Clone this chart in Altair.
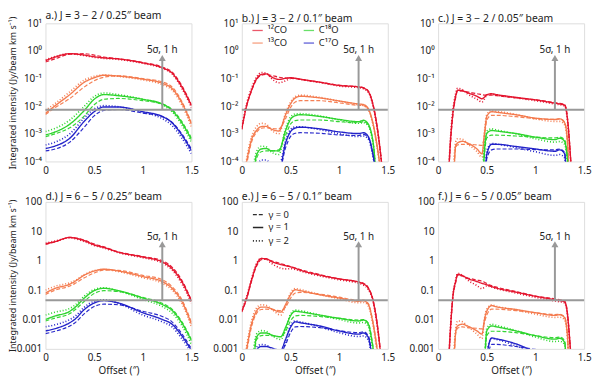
import altair as alt
import pandas as pd

FONT = "Noto Sans"

# ---------------- categories / styles ----------------
SPECIES = ["¹²CO", "¹³CO", "C¹⁸O", "C¹⁷O"]
SPECIES_COLORS = ["#e3122c", "#f4794c", "#2ad42a", "#1e1ec8"]
GAMMAS = ["γ = 0", "γ = 1", "γ = 2"]

TOP_TICKS = [10, 1, 0.1, 0.01, 0.001, 0.0001]
TOP_TICK_LABELS = ["10¹", "10⁰", "10⁻¹", "10⁻²", "10⁻³", "10⁻⁴"]
BOT_TICKS = [100, 10, 1, 0.1, 0.01, 0.001]
BOT_TICK_LABELS = ["100", "10", "1", "0.1", "0.01", "0.001"]
X_TICKS = [0, 0.5, 1, 1.5]

PANEL_TITLES = [
    "a.)  J = 3 − 2 / 0.25″ beam", "b.)  J = 3 − 2 / 0.1″ beam", "c.)  J = 3 − 2 / 0.05″ beam",
    "d.)  J = 6 − 5 / 0.25″ beam", "e.)  J = 6 − 5 / 0.1″ beam", "f.)  J = 6 − 5 / 0.05″ beam",
]

# 5 sigma detection level (Jy/beam km/s), arrow top and label height per row
SIGMA_LEVEL = [0.0075, 0.045]
ARROW_TOP = [0.56, 3.6]
LABEL_Y = [1.05, 6.5]
ARROW_X = 1.2

# ---------------- data: log10 of integrated intensity ----------------
# panel a (J=3-2, 0.25")
A_X = [0, 0.1, 0.25, 0.4, 0.5, 0.6, 0.75, 1.0, 1.2, 1.3, 1.4, 1.5]
A_12CO_G0 = [-0.40, -0.28, -0.12, -0.10, -0.15, -0.22, -0.28, -0.42, -0.58, -0.76, -1.25, -1.95]
A_12CO_G1 = [-0.35, -0.22, -0.10, -0.15, -0.21, -0.25, -0.29, -0.43, -0.61, -0.80, -1.30, -1.98]
A_12CO_G2 = [-0.32, -0.20, -0.10, -0.17, -0.23, -0.27, -0.31, -0.45, -0.63, -0.83, -1.35, -2.05]
A_13CO_G0 = [-2.30, -2.05, -1.72, -1.30, -1.08, -0.95, -0.90, -1.00, -1.12, -1.30, -1.82, -2.60]
A_13CO_G1 = [-2.26, -1.98, -1.58, -1.13, -0.97, -0.88, -0.91, -1.02, -1.17, -1.36, -1.87, -2.65]
A_13CO_G2 = [-2.15, -1.90, -1.48, -1.05, -0.92, -0.87, -0.92, -1.05, -1.22, -1.42, -1.95, -2.75]
A_C18O_G0 = [-3.10, -3.00, -2.78, -2.35, -1.95, -1.75, -1.72, -1.80, -1.92, -2.12, -2.55, -3.15]
A_C18O_G1 = [-3.04, -2.93, -2.65, -2.15, -1.75, -1.58, -1.62, -1.75, -1.92, -2.15, -2.60, -3.21]
A_C18O_G2 = [-2.92, -2.80, -2.50, -2.00, -1.65, -1.52, -1.58, -1.75, -1.95, -2.20, -2.68, -3.30]
A_C17O_G0 = [-3.62, -3.55, -3.30, -2.75, -2.35, -2.15, -2.12, -2.25, -2.38, -2.58, -3.00, -3.55]
A_C17O_G1 = [-3.53, -3.44, -3.16, -2.54, -2.20, -2.03, -2.03, -2.20, -2.37, -2.60, -3.04, -3.61]
A_C17O_G2 = [-3.40, -3.30, -3.00, -2.42, -2.10, -1.98, -2.02, -2.22, -2.45, -2.70, -3.15, -3.72]

# panel b (J=3-2, 0.1")
B_X = [0, 0.05, 0.1, 0.15, 0.2, 0.25, 0.3, 0.38, 0.45, 0.5, 0.55, 0.6, 0.8, 1.0, 1.2, 1.25, 1.3, 1.35, 1.4, 1.45]
B_12CO_G0 = [-2.85, -2.00, -1.45, -1.05, -0.88, -0.85, -0.88, -0.95, -0.98, -0.99, -1.00, -1.03, -1.13, -1.24, -1.30, -1.33, -1.45, -1.95, -2.95, -4.5]
B_12CO_G1 = [-2.82, -1.98, -1.42, -1.02, -0.85, -0.83, -0.93, -1.03, -0.99, -0.97, -0.99, -1.02, -1.13, -1.25, -1.30, -1.34, -1.47, -1.98, -2.99, -4.5]
B_12CO_G2 = [-2.75, -1.90, -1.35, -0.95, -0.78, -0.80, -0.98, -1.15, -1.08, -1.00, -1.00, -1.03, -1.14, -1.27, -1.33, -1.37, -1.50, -2.02, -3.05, -4.5]
B_13CO_G0 = [-5.0, -4.1, -3.30, -2.95, -2.80, -2.78, -2.80, -2.82, -2.45, -2.05, -1.85, -1.80, -1.80, -1.88, -1.97, -1.98, -2.12, -2.68, -3.70, -5.0]
B_13CO_G1 = [-5.0, -4.0, -3.21, -2.88, -2.74, -2.73, -2.82, -2.90, -2.31, -1.92, -1.70, -1.64, -1.70, -1.81, -1.92, -1.94, -2.09, -2.65, -3.66, -5.0]
B_13CO_G2 = [-5.0, -3.9, -3.10, -2.75, -2.62, -2.65, -2.85, -3.00, -2.25, -1.85, -1.65, -1.60, -1.68, -1.82, -1.95, -1.98, -2.13, -2.70, -3.72, -5.0]
B_C18O_G0 = [-5.0, -5.0, -5.0, -3.90, -3.65, -3.62, -3.62, -3.58, -3.05, -2.65, -2.52, -2.50, -2.50, -2.56, -2.60, -2.56, -2.68, -3.35, -5.0, -5.0]
B_C18O_G1 = [-5.0, -5.0, -5.0, -3.78, -3.55, -3.53, -3.61, -3.62, -2.88, -2.48, -2.34, -2.31, -2.37, -2.48, -2.56, -2.51, -2.65, -3.33, -5.0, -5.0]
B_C18O_G2 = [-5.0, -5.0, -4.5, -3.65, -3.45, -3.47, -3.65, -3.75, -2.80, -2.40, -2.28, -2.27, -2.35, -2.50, -2.62, -2.60, -2.72, -3.40, -5.0, -5.0]
B_C17O_G0 = [-5.0, -5.0, -5.0, -5.0, -4.5, -4.4, -4.4, -4.4, -3.50, -3.10, -2.98, -2.96, -2.98, -3.04, -3.06, -3.02, -3.14, -3.80, -5.0, -5.0]
B_C17O_G1 = [-5.0, -5.0, -5.0, -5.0, -4.3, -4.2, -4.3, -4.4, -3.33, -2.93, -2.79, -2.76, -2.82, -2.93, -2.99, -2.96, -3.10, -3.78, -5.0, -5.0]
B_C17O_G2 = [-5.0, -5.0, -5.0, -4.3, -3.95, -3.95, -4.1, -4.2, -3.25, -2.85, -2.75, -2.75, -2.85, -3.00, -3.10, -3.08, -3.20, -3.85, -5.0, -5.0]

# panel c (J=3-2, 0.05")
C_X = [0.1, 0.13, 0.15, 0.18, 0.2, 0.25, 0.3, 0.4, 0.45, 0.48, 0.5, 0.55, 0.6, 0.8, 1.0, 1.2, 1.25, 1.3, 1.33, 1.35, 1.38]
C_12CO_G0 = [-5.0, -3.2, -2.40, -1.70, -1.46, -1.45, -1.48, -1.55, -1.58, -1.60, -1.60, -1.60, -1.62, -1.70, -1.77, -1.87, -1.90, -1.94, -2.45, -3.30, -5.0]
C_12CO_G1 = [-5.0, -3.1, -2.31, -1.64, -1.42, -1.44, -1.51, -1.64, -1.73, -1.66, -1.58, -1.55, -1.58, -1.68, -1.77, -1.89, -1.92, -1.96, -2.50, -3.33, -5.0]
C_12CO_G2 = [-5.0, -3.0, -2.20, -1.55, -1.35, -1.40, -1.55, -1.75, -1.85, -1.72, -1.60, -1.57, -1.60, -1.70, -1.80, -1.92, -1.95, -1.99, -2.55, -3.40, -5.0]
C_13CO_G0 = [-5.0, -5.0, -5.0, -3.50, -3.40, -3.38, -3.38, -3.40, -3.42, -3.00, -2.50, -2.33, -2.33, -2.38, -2.45, -2.48, -2.46, -2.58, -3.30, -5.0, -5.0]
C_13CO_G1 = [-5.0, -5.0, -5.0, -3.44, -3.33, -3.27, -3.33, -3.55, -3.72, -2.88, -2.37, -2.20, -2.22, -2.31, -2.43, -2.48, -2.46, -2.60, -3.33, -5.0, -5.0]
C_13CO_G2 = [-5.0, -5.0, -4.5, -3.30, -3.18, -3.20, -3.35, -3.65, -3.85, -2.80, -2.30, -2.15, -2.18, -2.30, -2.46, -2.55, -2.55, -2.68, -3.40, -5.0, -5.0]
C_C18O_G0 = [-5.0, -5.0, -5.0, -5.0, -5.0, -5.0, -5.0, -5.0, -5.0, -3.60, -3.15, -3.05, -3.05, -3.08, -3.12, -3.15, -3.12, -3.22, -3.95, -5.0, -5.0]
C_C18O_G1 = [-5.0, -5.0, -5.0, -5.0, -5.0, -5.0, -5.0, -5.0, -5.0, -3.44, -2.99, -2.88, -2.90, -2.99, -3.12, -3.21, -3.16, -3.27, -4.00, -5.0, -5.0]
C_C18O_G2 = [-5.0, -5.0, -5.0, -5.0, -5.0, -5.0, -5.0, -5.0, -4.5, -3.30, -2.90, -2.82, -2.86, -3.00, -3.18, -3.30, -3.28, -3.38, -4.10, -5.0, -5.0]
C_C17O_G0 = [-5.0, -5.0, -5.0, -5.0, -5.0, -5.0, -5.0, -5.0, -5.0, -5.0, -3.90, -3.58, -3.55, -3.55, -3.57, -3.58, -3.55, -3.68, -5.0, -5.0, -5.0]
C_C17O_G1 = [-5.0, -5.0, -5.0, -5.0, -5.0, -5.0, -5.0, -5.0, -5.0, -4.6, -3.75, -3.38, -3.38, -3.46, -3.55, -3.63, -3.58, -3.72, -5.0, -5.0, -5.0]
C_C17O_G2 = [-5.0, -5.0, -5.0, -5.0, -5.0, -5.0, -5.0, -5.0, -5.0, -4.5, -3.60, -3.35, -3.37, -3.50, -3.65, -3.78, -3.75, -3.88, -5.0, -5.0, -5.0]

# panel d (J=6-5, 0.25")
D_X = [0, 0.1, 0.25, 0.3, 0.4, 0.5, 0.6, 0.75, 1.0, 1.2, 1.3, 1.4, 1.5]
D_12CO_G0 = [0.55, 0.64, 0.79, 0.78, 0.70, 0.57, 0.47, 0.30, 0.14, 0.00, -0.22, -0.66, -1.35]
D_12CO_G1 = [0.57, 0.65, 0.79, 0.77, 0.68, 0.54, 0.45, 0.29, 0.125, -0.04, -0.27, -0.71, -1.38]
D_12CO_G2 = [0.60, 0.67, 0.78, 0.75, 0.65, 0.52, 0.43, 0.27, 0.10, -0.08, -0.32, -0.78, -1.45]
D_13CO_G0 = [-1.15, -1.00, -0.86, -0.78, -0.58, -0.42, -0.32, -0.33, -0.50, -0.65, -0.88, -1.32, -2.10]
D_13CO_G1 = [-1.10, -0.94, -0.80, -0.71, -0.49, -0.35, -0.29, -0.35, -0.54, -0.71, -0.94, -1.38, -2.16]
D_13CO_G2 = [-1.00, -0.87, -0.75, -0.68, -0.47, -0.34, -0.30, -0.37, -0.58, -0.77, -1.00, -1.45, -2.25]
D_C18O_G0 = [-2.05, -1.95, -1.80, -1.68, -1.38, -1.12, -1.02, -1.05, -1.25, -1.45, -1.65, -2.07, -2.68]
D_C18O_G1 = [-2.00, -1.88, -1.72, -1.60, -1.27, -1.02, -0.94, -1.02, -1.27, -1.49, -1.69, -2.11, -2.72]
D_C18O_G2 = [-1.85, -1.75, -1.62, -1.52, -1.20, -0.98, -0.92, -1.03, -1.32, -1.56, -1.78, -2.20, -2.85]
D_C17O_G0 = [-2.48, -2.40, -2.22, -2.12, -1.80, -1.56, -1.48, -1.50, -1.72, -1.90, -2.08, -2.48, -3.00]
D_C17O_G1 = [-2.39, -2.31, -2.11, -2.00, -1.66, -1.44, -1.36, -1.44, -1.77, -2.00, -2.16, -2.55, -3.06]
D_C17O_G2 = [-2.25, -2.18, -2.00, -1.90, -1.58, -1.38, -1.33, -1.45, -1.85, -2.08, -2.25, -2.65, -3.15]

# panel e (J=6-5, 0.1")
E_X = [0, 0.05, 0.1, 0.15, 0.2, 0.25, 0.3, 0.4, 0.45, 0.5, 0.55, 0.6, 0.8, 1.0, 1.2, 1.25, 1.3, 1.35, 1.4, 1.45]
E_12CO_G0 = [-1.75, -1.30, -0.70, -0.20, 0.03, 0.05, 0.00, -0.10, -0.15, -0.20, -0.25, -0.30, -0.47, -0.62, -0.72, -0.77, -0.92, -1.35, -2.35, -4.0]
E_12CO_G1 = [-1.72, -1.27, -0.66, -0.15, 0.07, 0.07, -0.02, -0.13, -0.17, -0.21, -0.26, -0.32, -0.49, -0.62, -0.73, -0.79, -0.94, -1.38, -2.39, -4.0]
E_12CO_G2 = [-1.68, -1.22, -0.62, -0.10, 0.08, 0.05, -0.08, -0.25, -0.28, -0.27, -0.30, -0.35, -0.52, -0.65, -0.77, -0.83, -0.98, -1.42, -2.45, -4.0]
E_13CO_G0 = [-4.0, -3.1, -2.25, -1.80, -1.66, -1.65, -1.66, -1.70, -1.58, -1.28, -1.10, -1.08, -1.14, -1.24, -1.35, -1.34, -1.46, -2.12, -3.15, -4.0]
E_13CO_G1 = [-4.0, -3.0, -2.16, -1.72, -1.58, -1.58, -1.63, -1.75, -1.49, -1.16, -0.99, -1.02, -1.16, -1.27, -1.38, -1.36, -1.49, -2.16, -3.20, -4.0]
E_13CO_G2 = [-4.0, -2.9, -2.05, -1.62, -1.50, -1.52, -1.63, -1.85, -1.55, -1.10, -0.95, -0.98, -1.15, -1.30, -1.43, -1.42, -1.55, -2.22, -3.30, -4.0]
E_C18O_G0 = [-4.0, -4.0, -4.0, -2.70, -2.55, -2.54, -2.55, -2.58, -2.40, -2.05, -1.88, -1.86, -1.90, -1.96, -2.02, -2.00, -2.12, -2.95, -4.0, -4.0]
E_C18O_G1 = [-4.0, -4.0, -4.0, -2.61, -2.46, -2.46, -2.52, -2.59, -2.27, -1.88, -1.72, -1.74, -1.85, -1.96, -2.05, -2.02, -2.16, -3.00, -4.0, -4.0]
E_C18O_G2 = [-4.0, -4.0, -3.5, -2.50, -2.38, -2.40, -2.52, -2.68, -2.35, -1.82, -1.68, -1.70, -1.85, -2.00, -2.12, -2.10, -2.24, -3.10, -4.0, -4.0]
E_C17O_G0 = [-4.0, -4.0, -4.0, -3.20, -3.05, -3.05, -3.05, -3.10, -2.85, -2.45, -2.25, -2.24, -2.28, -2.38, -2.45, -2.42, -2.56, -3.45, -4.0, -4.0]
E_C17O_G1 = [-4.0, -4.0, -4.0, -3.05, -2.92, -2.92, -2.96, -3.05, -2.67, -2.27, -2.08, -2.11, -2.22, -2.39, -2.50, -2.46, -2.61, -3.50, -4.0, -4.0]
E_C17O_G2 = [-4.0, -4.0, -4.0, -2.95, -2.85, -2.87, -2.98, -3.15, -2.75, -2.20, -2.05, -2.08, -2.25, -2.45, -2.58, -2.56, -2.70, -3.60, -4.0, -4.0]

# panel f (J=6-5, 0.05")
F_X = [0.1, 0.13, 0.15, 0.18, 0.2, 0.25, 0.3, 0.4, 0.45, 0.48, 0.5, 0.55, 0.6, 0.8, 1.0, 1.2, 1.25, 1.3, 1.33, 1.35, 1.38]
F_12CO_G0 = [-4.0, -2.20, -1.32, -0.75, -0.50, -0.52, -0.58, -0.66, -0.70, -0.74, -0.78, -0.85, -0.90, -1.05, -1.20, -1.30, -1.33, -1.37, -1.80, -2.58, -4.0]
F_12CO_G1 = [-4.0, -2.16, -1.27, -0.71, -0.47, -0.51, -0.60, -0.71, -0.77, -0.80, -0.82, -0.88, -0.93, -1.07, -1.21, -1.33, -1.36, -1.40, -1.85, -2.61, -4.0]
F_12CO_G2 = [-4.0, -2.10, -1.22, -0.66, -0.43, -0.50, -0.65, -0.85, -0.95, -0.90, -0.86, -0.90, -0.95, -1.10, -1.25, -1.37, -1.40, -1.44, -1.90, -2.65, -4.0]
F_13CO_G0 = [-4.0, -4.0, -4.0, -2.50, -2.30, -2.25, -2.28, -2.30, -2.32, -2.05, -1.85, -1.65, -1.65, -1.70, -1.77, -1.83, -1.82, -1.92, -2.58, -4.0, -4.0]
F_13CO_G1 = [-4.0, -4.0, -4.0, -2.44, -2.22, -2.16, -2.22, -2.39, -2.50, -1.94, -1.72, -1.53, -1.57, -1.66, -1.77, -1.86, -1.84, -1.94, -2.61, -4.0, -4.0]
F_13CO_G2 = [-4.0, -4.0, -3.5, -2.35, -2.05, -2.08, -2.22, -2.50, -2.65, -1.90, -1.65, -1.50, -1.55, -1.68, -1.82, -1.93, -1.92, -2.02, -2.68, -4.0, -4.0]
F_C18O_G0 = [-4.0, -4.0, -4.0, -4.0, -4.0, -4.0, -4.0, -4.0, -4.0, -3.30, -2.55, -2.40, -2.40, -2.45, -2.55, -2.62, -2.60, -2.72, -4.0, -4.0, -4.0]
F_C18O_G1 = [-4.0, -4.0, -4.0, -4.0, -4.0, -4.0, -4.0, -4.0, -4.0, -3.20, -2.39, -2.22, -2.25, -2.39, -2.55, -2.67, -2.64, -2.78, -4.0, -4.0, -4.0]
F_C18O_G2 = [-4.0, -4.0, -4.0, -4.0, -4.0, -4.0, -4.0, -4.0, -4.0, -3.10, -2.30, -2.16, -2.20, -2.38, -2.60, -2.75, -2.74, -2.86, -4.0, -4.0, -4.0]
F_C17O_G0 = [-4.0, -4.0, -4.0, -4.0, -4.0, -4.0, -4.0, -4.0, -4.0, -4.0, -3.50, -2.85, -2.85, -2.92, -3.02, -3.10, -3.10, -3.20, -4.0, -4.0, -4.0]
F_C17O_G1 = [-4.0, -4.0, -4.0, -4.0, -4.0, -4.0, -4.0, -4.0, -4.0, -4.0, -3.30, -2.63, -2.66, -2.83, -3.10, -3.30, -3.30, -3.40, -4.0, -4.0, -4.0]
F_C17O_G2 = [-4.0, -4.0, -4.0, -4.0, -4.0, -4.0, -4.0, -4.0, -4.0, -4.0, -3.20, -2.65, -2.68, -2.90, -3.15, -3.40, -3.40, -3.50, -4.0, -4.0, -4.0]

PANELS = {
    "a": (A_X, [[A_12CO_G0, A_12CO_G1, A_12CO_G2], [A_13CO_G0, A_13CO_G1, A_13CO_G2],
                [A_C18O_G0, A_C18O_G1, A_C18O_G2], [A_C17O_G0, A_C17O_G1, A_C17O_G2]]),
    "b": (B_X, [[B_12CO_G0, B_12CO_G1, B_12CO_G2], [B_13CO_G0, B_13CO_G1, B_13CO_G2],
                [B_C18O_G0, B_C18O_G1, B_C18O_G2], [B_C17O_G0, B_C17O_G1, B_C17O_G2]]),
    "c": (C_X, [[C_12CO_G0, C_12CO_G1, C_12CO_G2], [C_13CO_G0, C_13CO_G1, C_13CO_G2],
                [C_C18O_G0, C_C18O_G1, C_C18O_G2], [C_C17O_G0, C_C17O_G1, C_C17O_G2]]),
    "d": (D_X, [[D_12CO_G0, D_12CO_G1, D_12CO_G2], [D_13CO_G0, D_13CO_G1, D_13CO_G2],
                [D_C18O_G0, D_C18O_G1, D_C18O_G2], [D_C17O_G0, D_C17O_G1, D_C17O_G2]]),
    "e": (E_X, [[E_12CO_G0, E_12CO_G1, E_12CO_G2], [E_13CO_G0, E_13CO_G1, E_13CO_G2],
                [E_C18O_G0, E_C18O_G1, E_C18O_G2], [E_C17O_G0, E_C17O_G1, E_C17O_G2]]),
    "f": (F_X, [[F_12CO_G0, F_12CO_G1, F_12CO_G2], [F_13CO_G0, F_13CO_G1, F_13CO_G2],
                [F_C18O_G0, F_C18O_G1, F_C18O_G2], [F_C17O_G0, F_C17O_G1, F_C17O_G2]]),
}


def panel_frame(key):
    xs, table = PANELS[key]
    rows = []
    for si, sp in enumerate(SPECIES):
        for gi, g in enumerate(GAMMAS):
            for x, lv in zip(xs, table[si][gi]):
                rows.append({"x": x, "y": 10 ** lv, "species": sp, "gamma": g})
    return pd.DataFrame(rows)


def label_expr(ticks, labels):
    parts = []
    for t, lab in zip(ticks[:-1], labels[:-1]):
        parts.append(f"datum.value > {t * 0.5} ? '{lab}' : ")
    return "".join(parts) + f"'{labels[-1]}'"


LEG_COLOR = alt.Legend(orient="none", legendX=209, legendY=1, columns=2, title=None,
                       symbolType="stroke", symbolStrokeWidth=1.3, symbolSize=110,
                       labelFont=FONT, labelFontSize=9.5, labelColor="#222",
                       columnPadding=14, rowPadding=2, symbolOpacity=0.7)
LEG_DASH = alt.Legend(orient="none", legendX=209, legendY=188, title=None,
                      symbolType="stroke", symbolStrokeWidth=1.3, symbolSize=110,
                      symbolStrokeColor="#222",
                      labelFont=FONT, labelFontSize=9.5, labelColor="#222", rowPadding=2)

W = 148
HEIGHTS = [140, 149]


def make_panel(idx):
    key = "abcdef"[idx]
    row = 0 if idx < 3 else 1
    col = idx % 3
    ticks = TOP_TICKS if row == 0 else BOT_TICKS
    labels = TOP_TICK_LABELS if row == 0 else BOT_TICK_LABELS
    ydom = [ticks[-1], ticks[0]]

    yaxis_kwargs = dict(values=ticks, labelExpr=label_expr(ticks, labels), ticks=False, grid=False,
                        domain=False, labelPadding=4, labelFontSize=10, labelFont=FONT,
                        labelColor="#222", minExtent=26, maxExtent=26)
    if col == 0:
        yaxis = alt.Axis(title="Integrated intensity (Jy/beam km s⁻¹)", titlePadding=2,
                         titleFont=FONT, titleFontSize=9, titleFontWeight="normal",
                         titleColor="#222", **yaxis_kwargs)
    else:
        yaxis = alt.Axis(title=None, **yaxis_kwargs)
    xaxis_kwargs = dict(values=X_TICKS, format="~g", ticks=False, grid=False, domain=False,
                        labelPadding=4, labelFontSize=10, labelFont=FONT, labelColor="#222",
                        labelFlush=False)
    if row == 1:
        xaxis = alt.Axis(title="Offset (″)", titlePadding=3, titleFont=FONT, titleFontSize=10,
                         titleFontWeight="normal", titleColor="#222", **xaxis_kwargs)
    else:
        xaxis = alt.Axis(title=None, **xaxis_kwargs)

    xenc = alt.X("x:Q", scale=alt.Scale(domain=[0, 1.5], nice=False, zero=False), axis=xaxis)
    yscale = alt.Scale(type="log", domain=ydom, nice=False)
    yenc = alt.Y("y:Q", scale=yscale, axis=yaxis)

    lines = alt.Chart(panel_frame(key)).mark_line(clip=True, interpolate="monotone").encode(
        x=xenc,
        y=yenc,
        color=alt.Color("species:N", scale=alt.Scale(domain=SPECIES, range=SPECIES_COLORS), legend=LEG_COLOR),
        strokeDash=alt.StrokeDash("gamma:N", scale=alt.Scale(domain=GAMMAS, range=[[4, 2], [1, 0], [1, 2]]),
                                  legend=LEG_DASH),
        strokeWidth=alt.StrokeWidth("gamma:N", scale=alt.Scale(domain=GAMMAS, range=[1.2, 1.6, 1.0]), legend=None),
        opacity=alt.Opacity("gamma:N", scale=alt.Scale(domain=GAMMAS, range=[0.95, 1.0, 0.75]), legend=None),
    )

    sig = pd.DataFrame({"y": [SIGMA_LEVEL[row]]})
    sigma_rule = alt.Chart(sig).mark_rule(color="#999999", strokeWidth=2).encode(y=alt.Y("y:Q", scale=yscale))

    arr = pd.DataFrame({"x": [ARROW_X], "y": [SIGMA_LEVEL[row]], "y2": [ARROW_TOP[row]],
                        "ly": [LABEL_Y[row]], "txt": ["5σ, 1 h"]})
    arrow = alt.Chart(arr).mark_rule(color="#999999", strokeWidth=2).encode(
        x=alt.X("x:Q", scale=alt.Scale(domain=[0, 1.5])), y=alt.Y("y:Q", scale=yscale), y2="y2:Q")
    head = alt.Chart(arr).mark_point(shape="triangle-up", filled=True, size=50, color="#999999", opacity=1).encode(
        x="x:Q", y=alt.Y("y2:Q", scale=yscale))
    text = alt.Chart(arr).mark_text(font=FONT, fontSize=10, color="#222", baseline="middle").encode(
        x="x:Q", y=alt.Y("ly:Q", scale=yscale), text="txt:N")

    title = alt.TitleParams(text=PANEL_TITLES[idx], anchor="start", frame="group",
                            font=FONT, fontSize=10.5, fontWeight="normal", color="#222", offset=1, dy=7)
    return alt.layer(lines, sigma_rule, arrow, head, text).properties(width=W, height=HEIGHTS[row], title=title)


chart = alt.concat(*[make_panel(i) for i in range(6)], columns=3,
                   spacing={"row": 41, "column": 51}, bounds="flush").properties(
    padding={"left": 0, "top": 0, "right": 0, "bottom": 0}
).configure_view(stroke="#333333", strokeWidth=1).configure(font=FONT)

chart.save("out.html", embed_options={"renderer": "svg", "actions": False})
